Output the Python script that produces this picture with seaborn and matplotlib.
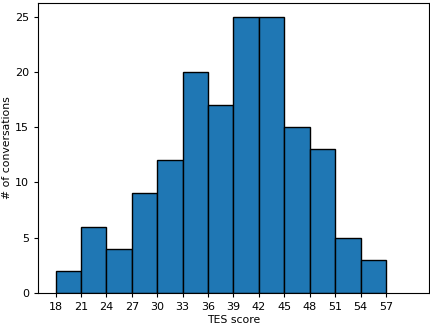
import numpy as np
import pandas as pd
import seaborn as sns
import matplotlib.pyplot as plt

# bin edges (width 3) and counts
BIN_EDGES = [18, 21, 24, 27, 30, 33, 36, 39, 42, 45, 48, 51, 54, 57]
COUNTS = [2, 6, 4, 9, 12, 20, 17, 25, 25, 15, 13, 5, 3]
XTICKS = [18, 21, 24, 27, 30, 33, 36, 39, 42, 45, 48, 51, 54, 57]


def main():
    df = pd.DataFrame({"TES score": BIN_EDGES[:-1], "n": COUNTS})

    fig = plt.figure(figsize=(4.3, 3.24), dpi=100)
    ax = fig.add_axes([0.088, 0.096, 0.91, 0.895])

    sns.histplot(data=df, x="TES score", weights="n", bins=BIN_EDGES,
                 color="#1f77b4", edgecolor="black", linewidth=1.0,
                 alpha=1.0, ax=ax)

    # original range ran one empty bin further (up to 60)
    ax.set_xlim(15.9, 62.1)
    ax.set_xticks(XTICKS)
    ax.tick_params(labelsize=8, length=3)
    ax.set_xlabel("TES score", fontsize=7.8, labelpad=2)
    ax.set_ylabel("# of conversations", fontsize=7.8, labelpad=2)

    fig.savefig("out.png", dpi=100)


if __name__ == "__main__":
    main()
